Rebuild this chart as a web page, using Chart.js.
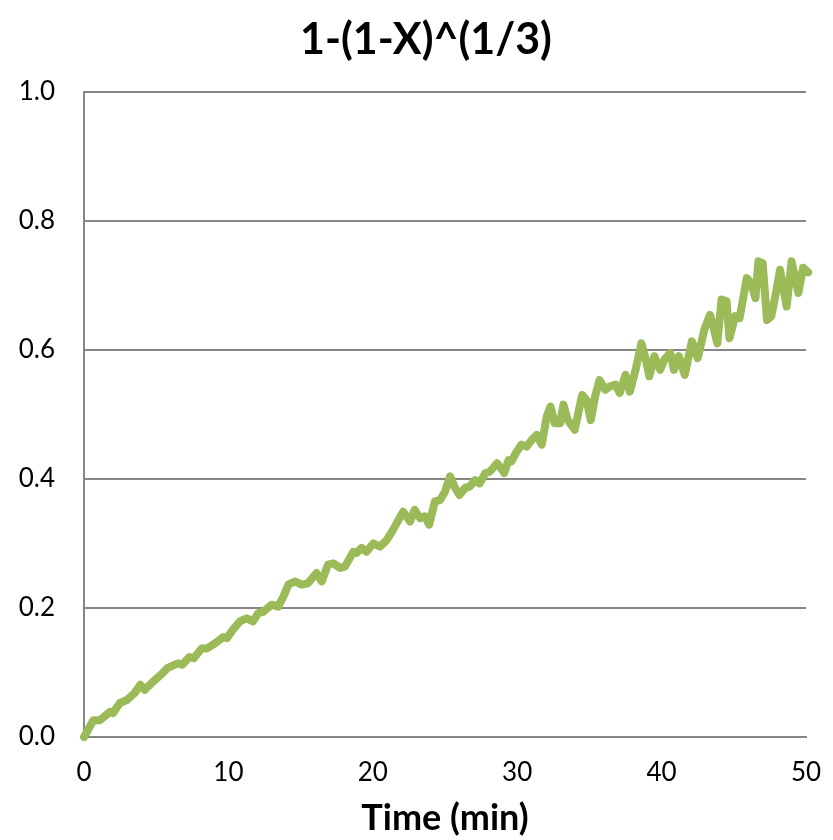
<!DOCTYPE html>
<html>
<head>
<meta charset="utf-8">
<script src="https://cdn.jsdelivr.net/npm/chart.js@4"></script>
<style>
html,body{margin:0;padding:0;background:#fff;}
#c{display:block;}
</style>
</head>
<body>
<canvas id="c" width="833" height="840"></canvas>
<script>
const chartTitle = "1-(1-X)^(1/3)";
const xAxisTitle = "Time (min)";
const timeMin = [0, 0.65, 1.1, 1.8, 2.0, 2.5, 2.95, 3.5, 3.9, 4.2,
  4.8, 5.3, 5.8, 6.5, 6.8, 7.3, 7.6, 8.15, 8.5, 9.07,
  9.65, 9.9, 10.3, 10.8, 11.27, 11.7, 12.07, 12.4, 13.0, 13.45,
  13.8, 14.15, 14.6, 15.07, 15.5, 16.1, 16.46, 16.9, 17.27, 17.73,
  18.07, 18.65, 18.88, 19.23, 19.57, 20.03, 20.5, 20.96, 21.4, 21.77,
  22.1, 22.58, 22.9, 23.27, 23.6, 23.9, 24.3, 24.65, 25.0, 25.35,
  25.7, 26.0, 26.4, 26.7, 27.08, 27.4, 27.8, 28.1, 28.6, 28.8,
  29.1, 29.4, 29.6, 29.96, 30.3, 30.65, 31.0, 31.35, 31.7, 32.05,
  32.3, 32.6, 32.96, 33.2, 33.5, 33.98, 34.5, 34.8, 35.1, 35.4,
  35.7, 36.1, 36.4, 36.8, 37.1, 37.5, 37.8, 38.2, 38.6, 38.85,
  39.15, 39.5, 39.9, 40.2, 40.6, 40.86, 41.2, 41.6, 42.1, 42.5,
  42.96, 43.35, 43.6, 43.86, 44.15, 44.5, 44.7, 45.1, 45.4, 45.9,
  46.2, 46.5, 46.7, 47.0, 47.3, 47.6, 47.96, 48.2, 48.66, 49.0,
  49.47, 49.8, 50.15];
const conversionFn = [0, 0.026, 0.026, 0.039, 0.037, 0.053, 0.057, 0.068, 0.081, 0.073,
  0.086, 0.096, 0.107, 0.114, 0.112, 0.124, 0.122, 0.137, 0.137, 0.145,
  0.155, 0.153, 0.166, 0.179, 0.184, 0.179, 0.192, 0.194, 0.205, 0.202,
  0.217, 0.236, 0.241, 0.236, 0.238, 0.254, 0.241, 0.267, 0.269, 0.262,
  0.264, 0.287, 0.285, 0.293, 0.287, 0.300, 0.295, 0.305, 0.321, 0.336,
  0.349, 0.334, 0.352, 0.339, 0.342, 0.329, 0.365, 0.367, 0.380, 0.404,
  0.386, 0.375, 0.386, 0.388, 0.398, 0.393, 0.409, 0.411, 0.424, 0.419,
  0.409, 0.429, 0.427, 0.442, 0.453, 0.450, 0.460, 0.468, 0.453, 0.497,
  0.512, 0.486, 0.486, 0.515, 0.491, 0.476, 0.530, 0.522, 0.491, 0.528,
  0.553, 0.538, 0.543, 0.546, 0.533, 0.561, 0.535, 0.569, 0.610, 0.590,
  0.559, 0.590, 0.569, 0.585, 0.595, 0.569, 0.590, 0.561, 0.613, 0.587,
  0.631, 0.654, 0.634, 0.610, 0.678, 0.675, 0.618, 0.652, 0.649, 0.711,
  0.703, 0.680, 0.737, 0.734, 0.646, 0.652, 0.693, 0.724, 0.667, 0.737,
  0.688, 0.727, 0.720];
const xTicks = [0, 10, 20, 30, 40, 50];
const yTicks = [0.0, 0.2, 0.4, 0.6, 0.8, 1.0];

const points = timeMin.map((t, i) => ({x: t, y: conversionFn[i]}));
const FONT = "Lato, 'Open Sans', sans-serif";
const GRID = '#868686';

const shiftTitle = {
  id: 'shiftTitle',
  afterLayout(chart) {
    if (chart.titleBlock) { chart.titleBlock.left = 46; }
  }
};

new Chart(document.getElementById('c'), {
  type: 'line',
  plugins: [shiftTitle],
  data: {
    datasets: [{
      data: points,
      borderColor: '#9BBB59',
      borderWidth: 8,
      pointRadius: 0,
      tension: 0,
      fill: false,
      clip: false,
      borderJoinStyle: 'round',
      borderCapStyle: 'round'
    }]
  },
  options: {
    responsive: false,
    animation: false,
    devicePixelRatio: 1,
    layout: {padding: {left: 0, right: 27, top: 0, bottom: 0}},
    plugins: {
      legend: {display: false},
      tooltip: {enabled: false},
      title: {
        display: true,
        text: chartTitle,
        color: '#000',
        font: {family: FONT, size: 43, weight: 'bold', lineHeight: 1.2},
        padding: {top: 14, bottom: 26}
      }
    },
    scales: {
      x: {
        type: 'linear',
        min: xTicks[0],
        max: xTicks[xTicks.length - 1],
        afterBuildTicks: s => { s.ticks = xTicks.map(v => ({value: v})); },
        afterFit: s => { s.height = 103; s.paddingLeft = 0; s.paddingRight = 0; },
        grid: {display: false, drawTicks: false},
        border: {display: true, color: GRID, width: 2},
        ticks: {
          color: '#000',
          font: {family: FONT, size: 26},
          padding: 20,
          maxRotation: 0,
          callback: v => String(v)
        },
        title: {
          display: true,
          text: xAxisTitle,
          color: '#000',
          font: {family: FONT, size: 36, weight: 'bold', lineHeight: 1.2},
          padding: {top: 0, bottom: 0}
        }
      },
      y: {
        type: 'linear',
        min: yTicks[0],
        max: yTicks[yTicks.length - 1],
        afterBuildTicks: s => { s.ticks = yTicks.map(v => ({value: v})); },
        afterFit: s => { s.width = 84; s.paddingTop = 0; s.paddingBottom = 0; },
        grid: {display: true, color: GRID, lineWidth: 2, drawTicks: false},
        border: {display: true, color: GRID, width: 2},
        ticks: {
          color: '#000',
          font: {family: FONT, size: 26},
          padding: 29,
          callback: v => Number(v).toFixed(1)
        }
      }
    }
  }
});
</script>
</body>
</html>
